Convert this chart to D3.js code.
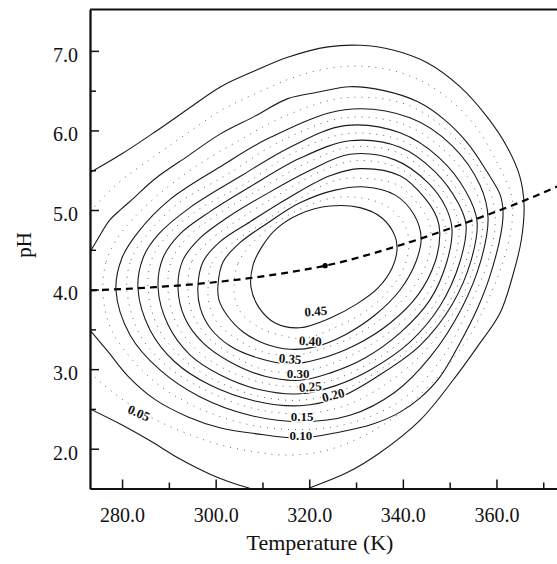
<!DOCTYPE html>
<html>
<head>
<meta charset="utf-8">
<script src="https://cdn.jsdelivr.net/npm/d3@7"></script>
<style>
  body { margin: 0; background: #fff; }
  .chart text { font-family: "Liberation Serif", "Times New Roman", serif; fill: #111; }
  .axis path, .axis line { stroke: #111; }
</style>
</head>
<body>
<div class="chart"></div>
<script>
const WIDTH = 557, HEIGHT = 564;
const PLOT = { LEFT: 90, RIGHT: 558, TOP: 9.5, BOTTOM: 488.5 };

// axes
const T_DOMAIN = [273.15, 373.15];
const PH_DOMAIN = [1.5, 7.52];
const T_TICKS = [280, 300, 320, 340, 360];
const T_MINOR = [290, 310, 330, 350, 370];
const PH_TICKS = [2, 3, 4, 5, 6, 7];
const PH_MINOR = [2.5, 3.5, 4.5, 5.5, 6.5];

// optimum pH line (dashed) and its marked point
const OPT_T  = [273.15, 287, 301, 315, 323.4, 339, 353, 366, 373.15];
const OPT_PH = [3.99, 4.03, 4.10, 4.21, 4.30, 4.55, 4.83, 5.12, 5.30];
const OPT_POINT = [323.4, 4.30];

// solid contours, [T (K), pH]
const C005_UPPER = [[273.15,5.47],[279.8,5.70],[287.0,5.98],[294.1,6.27],[301.1,6.55],[308.4,6.75],[315.4,6.92],[324.0,7.05],[330.9,7.07],[337.9,7.01],[345.2,6.85],[352.2,6.55],[358.0,6.17],[362.3,5.79],[365.0,5.42],[365.9,5.06],[365.3,4.62],[363.5,4.18],[360.8,3.71],[355.9,3.28],[350.7,2.86],[343.7,2.36],[335.1,1.95],[328.1,1.70],[320.2,1.51],[316.9,1.44]];
const C005_LOWER = [[273.15,2.50],[279.6,2.31],[286.0,2.10],[292.4,1.87],[298.8,1.68],[304.1,1.56],[306.9,1.51],[309.1,1.47]];
const C010 = [[273.15,4.47],[274.65,4.62],[277.4,4.875],[279.8,5.01],[282.3,5.14],[287.0,5.39],[294.1,5.68],[301.1,5.96],[308.4,6.18],[315.4,6.40],[321.7,6.48],[328.7,6.55],[336.0,6.50],[343.2,6.36],[348.8,6.14],[353.7,5.85],[358.0,5.48],[360.8,5.19],[361.4,4.98],[361.0,4.72],[358.6,4.17],[355.9,3.76],[352.2,3.33],[347.9,2.90],[343.7,2.64],[339.4,2.46],[333.6,2.31],[326.6,2.21],[318.0,2.135],[308.4,2.19],[301.1,2.26],[294.1,2.40],[287.0,2.62],[281.3,2.91],[277.0,3.22],[273.15,3.49]];
const C015 = [[278.7,3.995],[280.0,4.40],[283.4,4.72],[290.2,5.13],[300.9,5.54],[311.6,5.91],[327.6,6.26],[341.5,6.16],[350.5,5.81],[356.5,5.31],[358.2,4.90],[356.7,4.37],[352.6,3.77],[345.8,3.15],[338.3,2.71],[328.7,2.42],[318.0,2.34],[307.3,2.42],[296.7,2.65],[288.1,2.99],[281.7,3.43]];
const C020 = [[283.4,4.01],[284.5,4.40],[287.7,4.69],[294.5,5.03],[305.2,5.42],[315.9,5.79],[327.6,6.06],[339.4,5.97],[347.9,5.65],[353.5,5.23],[355.85,4.86],[354.6,4.37],[350.5,3.81],[343.7,3.30],[335.1,2.93],[326.6,2.65],[318.0,2.54],[308.4,2.60],[298.8,2.80],[291.3,3.09],[286.0,3.49]];
const C025 = [[287.7,4.02],[288.75,4.40],[292.4,4.70],[298.8,4.98],[307.3,5.29],[318.0,5.65],[328.7,5.87],[339.4,5.79],[346.9,5.48],[351.8,5.09],[353.5,4.81],[352.2,4.35],[347.9,3.79],[341.5,3.34],[333.0,2.99],[325.5,2.79],[318.0,2.69],[309.5,2.74],[300.9,2.93],[294.5,3.18],[289.8,3.56]];
const C030 = [[291.95,4.02],[293.0,4.37],[296.7,4.65],[302.6,4.91],[310.5,5.19],[320.2,5.50],[328.7,5.70],[338.3,5.63],[345.4,5.34],[349.2,5.03],[350.5,4.76],[349.4,4.35],[345.8,3.87],[339.4,3.455],[331.9,3.14],[324.4,2.95],[318.0,2.86],[310.5,2.91],[303.1,3.09],[297.3,3.33],[293.45,3.64]];
const C035 = [[296.2,4.03],[297.3,4.35],[300.9,4.60],[307.3,4.85],[315.9,5.164],[324.4,5.43],[330.85,5.52],[339.4,5.43],[344.7,5.15],[347.3,4.90],[347.9,4.71],[346.9,4.35],[343.2,3.93],[337.3,3.58],[329.8,3.30],[322.3,3.13],[315.9,3.065],[309.05,3.14],[303.1,3.29],[298.8,3.52],[296.7,3.77]];
const C040 = [[300.5,4.06],[301.6,4.35],[305.2,4.59],[311.2,4.84],[318.0,5.09],[325.5,5.25],[331.9,5.29],[338.3,5.19],[342.4,4.94],[343.9,4.65],[342.8,4.35],[339.4,3.995],[334.05,3.68],[327.6,3.43],[321.2,3.28],[315.9,3.25],[310.5,3.32],[305.8,3.47],[302.4,3.68],[300.7,3.87]];
const C045 = [[307.55,4.03],[308.0,4.31],[309.9,4.54],[312.9,4.76],[318.0,4.95],[324.4,5.05],[330.85,5.03],[335.55,4.90],[338.3,4.675],[338.75,4.50],[337.7,4.27],[334.7,4.02],[330.2,3.82],[324.4,3.64],[318.0,3.52],[312.7,3.58],[309.3,3.77]];

// dotted (intermediate) contours
const D0075 = [[273.15,4.98],[276.35,5.18],[279.8,5.37],[287.0,5.68],[294.1,5.97],[301.1,6.25],[308.4,6.46],[315.9,6.65],[322.3,6.76],[329.8,6.81],[337.3,6.76],[344.7,6.60],[351.1,6.33],[356.05,6.01],[360.1,5.60],[362.9,5.25],[363.5,5.06],[363.1,4.75],[361.2,4.31],[358.2,3.87],[354.35,3.43],[349.65,3.05],[343.7,2.68],[337.3,2.36],[329.8,2.11],[322.3,1.96],[314.8,1.92],[308.4,1.96],[300.9,2.05],[293.45,2.20],[286.0,2.40],[279.6,2.64],[275.3,2.84],[273.15,2.96]];
const D0125 = [[275.9,3.98],[276.6,4.35],[278.7,4.62],[282.1,4.875],[288.1,5.21],[295.6,5.54],[305.2,5.88],[314.8,6.18],[327.6,6.41],[341.5,6.31],[352.2,5.84],[357.55,5.38],[359.7,4.96],[358.6,4.435],[354.35,3.81],[347.9,3.10],[339.4,2.60],[328.7,2.32],[318.0,2.24],[307.3,2.30],[296.7,2.50],[288.1,2.79],[281.7,3.15],[277.4,3.54]];
const D0175 = [[281.05,3.995],[281.9,4.37],[285.1,4.675],[291.95,5.08],[302.6,5.45],[313.75,5.86],[327.6,6.16],[340.45,6.07],[349.2,5.73],[355.2,5.28],[357.1,4.89],[355.6,4.37],[351.55,3.78],[344.7,3.23],[336.8,2.83],[327.6,2.54],[318.0,2.44],[307.8,2.51],[297.7,2.74],[289.8,3.03],[283.85,3.43]];
const D0225 = [[285.55,4.01],[286.4,4.385],[289.6,4.675],[296.2,5.00],[306.3,5.33],[316.95,5.73],[328.1,5.96],[339.4,5.88],[347.5,5.57],[352.6,5.15],[354.8,4.84],[353.5,4.36],[349.4,3.79],[342.6,3.32],[334.05,2.95],[326.1,2.71],[318.0,2.61],[309.05,2.66],[299.9,2.86],[293.0,3.13],[287.7,3.52]];
const D0275 = [[289.8,4.02],[290.7,4.385],[294.3,4.675],[300.5,4.95],[308.85,5.24],[319.1,5.58],[328.7,5.79],[339.0,5.72],[346.2,5.40],[350.5,5.06],[352.0,4.79],[350.9,4.35],[346.9,3.83],[340.45,3.39],[332.6,3.065],[324.9,2.86],[318.0,2.78],[309.9,2.83],[302.0,3.00],[295.8,3.25],[291.5,3.59]];
const D0325 = [[294.1,4.02],[294.95,4.36],[298.8,4.62],[304.8,4.875],[313.1,5.18],[322.3,5.48],[329.8,5.62],[339.0,5.53],[344.95,5.25],[347.7,4.98],[349.2,4.74],[348.15,4.35],[344.5,3.88],[338.3,3.52],[330.85,3.23],[323.4,3.04],[316.95,2.96],[309.9,3.00],[304.1,3.16],[298.4,3.40],[294.95,3.71]];
const D0375 = [[298.4,4.05],[299.2,4.33],[303.1,4.56],[309.05,4.80],[316.95,5.11],[325.5,5.37],[331.3,5.40],[339.0,5.31],[343.7,5.04],[345.6,4.85],[346.0,4.66],[345.2,4.35],[341.5,3.97],[335.55,3.64],[328.7,3.39],[321.9,3.24],[316.3,3.17],[309.9,3.22],[304.8,3.37],[300.3,3.59],[298.6,3.82]];
const D0425 = [[303.9,4.05],[304.8,4.33],[307.3,4.55],[312.0,4.80],[318.0,5.01],[324.9,5.15],[331.3,5.15],[336.8,5.04],[340.25,4.825],[341.3,4.60],[340.45,4.31],[337.3,4.01],[332.35,3.74],[326.15,3.54],[319.1,3.39],[314.2,3.42],[309.5,3.52],[305.8,3.68],[304.35,3.84]];

// contour labels
const LABEL_TEXT  = ["0.45", "0.40", "0.35", "0.30", "0.25", "0.20", "0.15", "0.10", "0.05"];
const LABEL_T     = [321.4, 320.2, 315.9, 317.6, 320.2, 325.1, 318.45, 318.2, 283.6];
const LABEL_PH    = [3.73, 3.355, 3.13, 2.94, 2.78, 2.675, 2.40, 2.17, 2.45];
const LABEL_ANGLE = [-4, 2, 4, 0, -4, -14, 0, 0, 24];

const SOLID_OPEN = [C005_UPPER, C005_LOWER, C010];
const SOLID_CLOSED = [C015, C020, C025, C030, C035, C040, C045];
const DOTTED_OPEN = [D0075];
const DOTTED_CLOSED = [D0125, D0175, D0225, D0275, D0325, D0375, D0425];

const x = d3.scaleLinear().domain(T_DOMAIN).range([PLOT.LEFT, PLOT.RIGHT]);
const y = d3.scaleLinear().domain(PH_DOMAIN).range([PLOT.BOTTOM, PLOT.TOP]);

const svg = d3.select(".chart").append("svg")
  .attr("width", WIDTH).attr("height", HEIGHT);

svg.append("clipPath").attr("id", "plot-clip")
  .append("rect")
  .attr("x", PLOT.LEFT).attr("y", PLOT.TOP)
  .attr("width", PLOT.RIGHT - PLOT.LEFT).attr("height", PLOT.BOTTOM - PLOT.TOP);

const plot = svg.append("g").attr("clip-path", "url(#plot-clip)");

const openLine = d3.line().x(d => x(d[0])).y(d => y(d[1])).curve(d3.curveCatmullRom.alpha(0.5));
const closedLine = d3.line().x(d => x(d[0])).y(d => y(d[1])).curve(d3.curveCatmullRomClosed.alpha(0.5));

// Dotted contours
plot.append("g").attr("class", "dotted")
  .selectAll("path").data(DOTTED_OPEN.map(openLine).concat(DOTTED_CLOSED.map(closedLine)))
  .enter().append("path")
  .attr("d", d => d)
  .attr("fill", "none")
  .attr("stroke", "#666")
  .attr("stroke-width", 1)
  .attr("stroke-dasharray", "1 6");

// Solid contours
plot.append("g").attr("class", "solid")
  .selectAll("path").data(SOLID_OPEN.map(openLine).concat(SOLID_CLOSED.map(closedLine)))
  .enter().append("path")
  .attr("d", d => d)
  .attr("fill", "none")
  .attr("stroke", "#1a1a1a")
  .attr("stroke-width", 1.1);

// Optimum pH line
const optData = OPT_T.map((t, i) => [t, OPT_PH[i]]);
plot.append("path")
  .attr("d", d3.line().x(d => x(d[0])).y(d => y(d[1])).curve(d3.curveMonotoneX)(optData))
  .attr("fill", "none")
  .attr("stroke", "#000")
  .attr("stroke-width", 2.2)
  .attr("stroke-dasharray", "7 5");

plot.append("circle")
  .attr("cx", x(OPT_POINT[0])).attr("cy", y(OPT_POINT[1]))
  .attr("r", 2.6).attr("fill", "#000");

// Contour labels
svg.append("g").attr("class", "labels")
  .selectAll("text").data(LABEL_TEXT).enter().append("text")
  .attr("transform", (d, i) => `translate(${x(LABEL_T[i])},${y(LABEL_PH[i])}) rotate(${LABEL_ANGLE[i]})`)
  .attr("text-anchor", "middle")
  .attr("dy", "0.35em")
  .attr("font-size", 13)
  .attr("font-weight", "bold")
  .attr("stroke", "#fff")
  .attr("stroke-width", 3)
  .attr("paint-order", "stroke")
  .text(d => d);

// Y-Axis
const yAxis = svg.append("g")
  .attr("class", "axis")
  .attr("transform", `translate(${PLOT.LEFT}, 0)`)
  .call(d3.axisLeft(y).tickValues(PH_TICKS).tickFormat(d3.format(".1f"))
    .tickSizeInner(-9).tickSizeOuter(0).tickPadding(12));
yAxis.selectAll("text").attr("font-size", 20).attr("dy", "0.52em");

svg.append("g")
  .attr("class", "axis")
  .attr("transform", `translate(${PLOT.LEFT}, 0)`)
  .call(d3.axisLeft(y).tickValues(PH_MINOR).tickFormat("").tickSizeInner(-6).tickSizeOuter(0));

// X-Axis
const xAxis = svg.append("g")
  .attr("class", "axis")
  .attr("transform", `translate(0, ${PLOT.BOTTOM})`)
  .call(d3.axisBottom(x).tickValues(T_TICKS).tickFormat(d3.format(".1f"))
    .tickSizeInner(-9).tickSizeOuter(0).tickPadding(19));
xAxis.selectAll("text").attr("font-size", 20);

svg.append("g")
  .attr("class", "axis")
  .attr("transform", `translate(0, ${PLOT.BOTTOM})`)
  .call(d3.axisBottom(x).tickValues(T_MINOR).tickFormat("").tickSizeInner(-6).tickSizeOuter(0));

svg.selectAll(".axis path").attr("stroke-width", 1.8);
svg.selectAll(".axis line").attr("stroke-width", 1.5);

// top border
svg.append("line")
  .attr("x1", PLOT.LEFT).attr("x2", PLOT.RIGHT)
  .attr("y1", PLOT.TOP).attr("y2", PLOT.TOP)
  .attr("stroke", "#111").attr("stroke-width", 1.8);

// Axis titles
svg.append("text")
  .attr("x", (PLOT.LEFT + 555) / 2 + 0)
  .attr("x", 320)
  .attr("y", 550)
  .attr("text-anchor", "middle")
  .attr("font-size", 22)
  .text("Temperature (K)");

svg.append("text")
  .attr("transform", "translate(31, 245) rotate(-90)")
  .attr("text-anchor", "middle")
  .attr("font-size", 21)
  .text("pH");
</script>
</body>
</html>
